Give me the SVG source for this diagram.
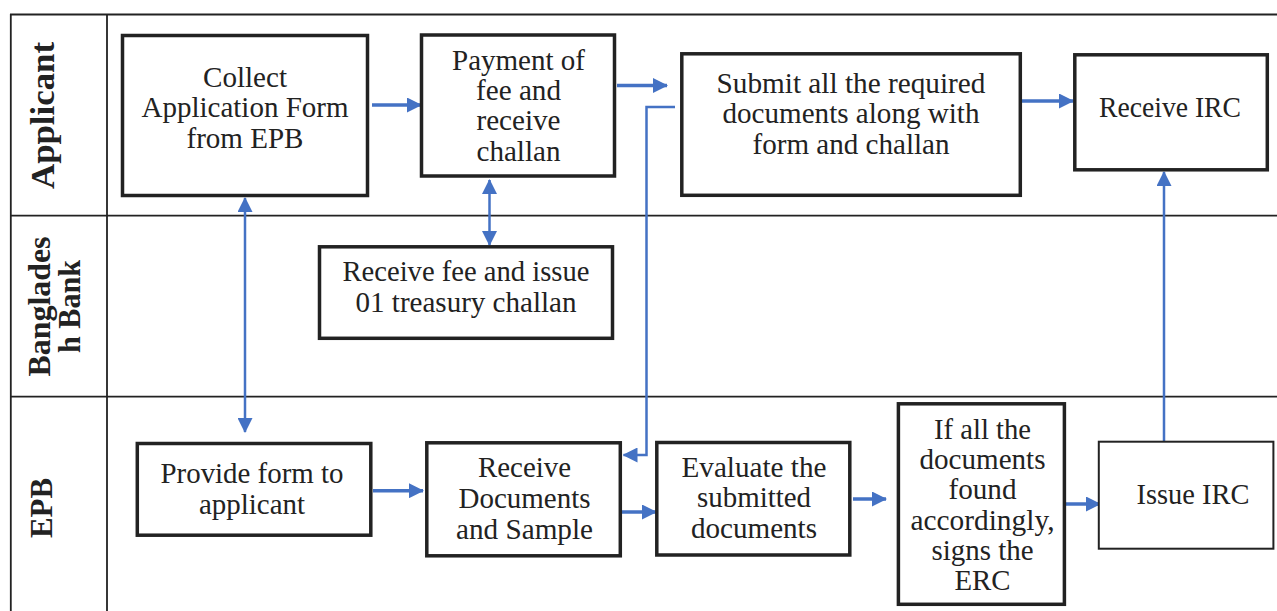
<svg xmlns="http://www.w3.org/2000/svg" width="1277" height="611" viewBox="0 0 1277 611">
<style>
.grid{stroke:#222;stroke-width:1.8;fill:none}
.box{fill:#fff;stroke:#222;stroke-width:3.5}
.thin{stroke-width:2}
.t{font-family:"Liberation Serif","Times New Roman",serif;font-size:29px;fill:#222;text-anchor:middle}
.lane{font-family:"Liberation Serif","Times New Roman",serif;font-size:31px;font-weight:bold;fill:#222;text-anchor:middle}
.c{fill:none;stroke:#4472C4;stroke-width:3.5}
.cv{fill:none;stroke:#4472C4;stroke-width:2.5}
</style>
<defs>
<marker id="ah" markerUnits="userSpaceOnUse" markerWidth="15" markerHeight="15" refX="14" refY="7.5" orient="auto-start-reverse">
<path d="M0,0 L15,7.5 L0,15 z" fill="#4472C4"/>
</marker>
</defs>
<rect width="1277" height="611" fill="#fff"/>
<g id="lanes">
<path class="grid" d="M10,14.5 H1277 M10,215.7 H1277 M10,396.7 H1277 M10.8,14 V611 M107,14 V611"/>
<text class="lane" transform="translate(54,115.5) rotate(-90)" style="font-size:34px" textLength="147" lengthAdjust="spacingAndGlyphs">Applicant</text>
<text class="lane" transform="translate(50,306.5) rotate(-90)" textLength="140" lengthAdjust="spacingAndGlyphs">Banglades</text>
<text class="lane" transform="translate(80,306.5) rotate(-90)" textLength="93" lengthAdjust="spacingAndGlyphs">h Bank</text>
<text class="lane" transform="translate(52,508) rotate(-90)" textLength="60" lengthAdjust="spacingAndGlyphs">EPB</text>
</g>
<g id="connectors">
<path class="c" d="M372,105 L421,105" marker-end="url(#ah)"/>
<path class="c" d="M617,85.5 L667,85.5" marker-end="url(#ah)"/>
<path class="c" d="M1022,101 L1073,101" marker-end="url(#ah)"/>
<path class="cv" d="M489.5,180 L489.5,245" marker-start="url(#ah)" marker-end="url(#ah)"/>
<path class="cv" d="M245,198 L245,432" marker-start="url(#ah)" marker-end="url(#ah)"/>
<path class="cv" d="M675,107 L646.5,107 L646.5,455 L623.5,455" marker-end="url(#ah)"/>
<path class="c" d="M373,490.7 L423,490.7" marker-end="url(#ah)"/>
<path class="c" d="M622,512 L656,512" marker-end="url(#ah)"/>
<path class="c" d="M853,499 L886,499" marker-end="url(#ah)"/>
<path class="c" d="M1066,504 L1100,504" marker-end="url(#ah)"/>
<path class="cv" d="M1164,441 L1164,172" marker-end="url(#ah)"/>
</g>
<g id="collect">
<rect class="box" x="122.5" y="35.5" width="245" height="160"/>
<text class="t" x="245" y="87" textLength="84" lengthAdjust="spacingAndGlyphs">Collect</text>
<text class="t" x="245" y="117" textLength="207" lengthAdjust="spacingAndGlyphs">Application Form</text>
<text class="t" x="245" y="148" textLength="117" lengthAdjust="spacingAndGlyphs">from EPB</text>
</g>
<g id="payment">
<rect class="box" x="421.5" y="35" width="193" height="141"/>
<text class="t" x="518.5" y="69.5" textLength="133" lengthAdjust="spacingAndGlyphs">Payment of</text>
<text class="t" x="518.5" y="99.5" textLength="85" lengthAdjust="spacingAndGlyphs">fee and</text>
<text class="t" x="518.5" y="129.5" textLength="84" lengthAdjust="spacingAndGlyphs">receive</text>
<text class="t" x="518.5" y="160.5" textLength="84" lengthAdjust="spacingAndGlyphs">challan</text>
</g>
<g id="bank">
<rect class="box" x="319.5" y="246.8" width="293" height="91.5"/>
<text class="t" x="466" y="281" textLength="247" lengthAdjust="spacingAndGlyphs">Receive fee and issue</text>
<text class="t" x="466" y="312" textLength="221" lengthAdjust="spacingAndGlyphs">01 treasury challan</text>
</g>
<g id="submit">
<rect class="box" x="681.8" y="53.8" width="338.5" height="141.5"/>
<text class="t" x="851" y="92.5" textLength="269" lengthAdjust="spacingAndGlyphs">Submit all the required</text>
<text class="t" x="851" y="122.5" textLength="257" lengthAdjust="spacingAndGlyphs">documents along with</text>
<text class="t" x="851" y="153.5" textLength="197" lengthAdjust="spacingAndGlyphs">form and challan</text>
</g>
<g id="receive-irc">
<rect class="box" x="1074.8" y="54.8" width="192.5" height="115"/>
<text class="t" x="1170" y="117" textLength="142" lengthAdjust="spacingAndGlyphs">Receive IRC</text>
</g>
<g id="provide">
<rect class="box" x="137.3" y="443.5" width="233.5" height="91.7"/>
<text class="t" x="252" y="483" textLength="183" lengthAdjust="spacingAndGlyphs">Provide form to</text>
<text class="t" x="252" y="513.5" textLength="106" lengthAdjust="spacingAndGlyphs">applicant</text>
</g>
<g id="receive-docs">
<rect class="box" x="426.8" y="442.8" width="193.5" height="113"/>
<text class="t" x="524.5" y="477" textLength="93" lengthAdjust="spacingAndGlyphs">Receive</text>
<text class="t" x="524.5" y="508" textLength="132" lengthAdjust="spacingAndGlyphs">Documents</text>
<text class="t" x="524.5" y="538.5" textLength="137" lengthAdjust="spacingAndGlyphs">and Sample</text>
</g>
<g id="evaluate">
<rect class="box" x="656.8" y="442.5" width="193" height="112.5"/>
<text class="t" x="754" y="477" textLength="145" lengthAdjust="spacingAndGlyphs">Evaluate the</text>
<text class="t" x="754" y="507" textLength="114" lengthAdjust="spacingAndGlyphs">submitted</text>
<text class="t" x="754" y="537.5" textLength="126" lengthAdjust="spacingAndGlyphs">documents</text>
</g>
<g id="if-all">
<rect class="box" x="898.4" y="403.8" width="166" height="200.5"/>
<text class="t" x="982.5" y="438.5" textLength="97" lengthAdjust="spacingAndGlyphs">If all the</text>
<text class="t" x="982.5" y="468.5" textLength="126" lengthAdjust="spacingAndGlyphs">documents</text>
<text class="t" x="982.5" y="499" textLength="68" lengthAdjust="spacingAndGlyphs">found</text>
<text class="t" x="982.5" y="529.5" textLength="144" lengthAdjust="spacingAndGlyphs">accordingly,</text>
<text class="t" x="982.5" y="559.5" textLength="102" lengthAdjust="spacingAndGlyphs">signs the</text>
<text class="t" x="982.5" y="590" textLength="56" lengthAdjust="spacingAndGlyphs">ERC</text>
</g>
<g id="issue-irc">
<rect class="box thin" x="1098.8" y="441.7" width="174.6" height="107"/>
<text class="t" x="1193" y="504" textLength="113" lengthAdjust="spacingAndGlyphs">Issue IRC</text>
</g>
</svg>
